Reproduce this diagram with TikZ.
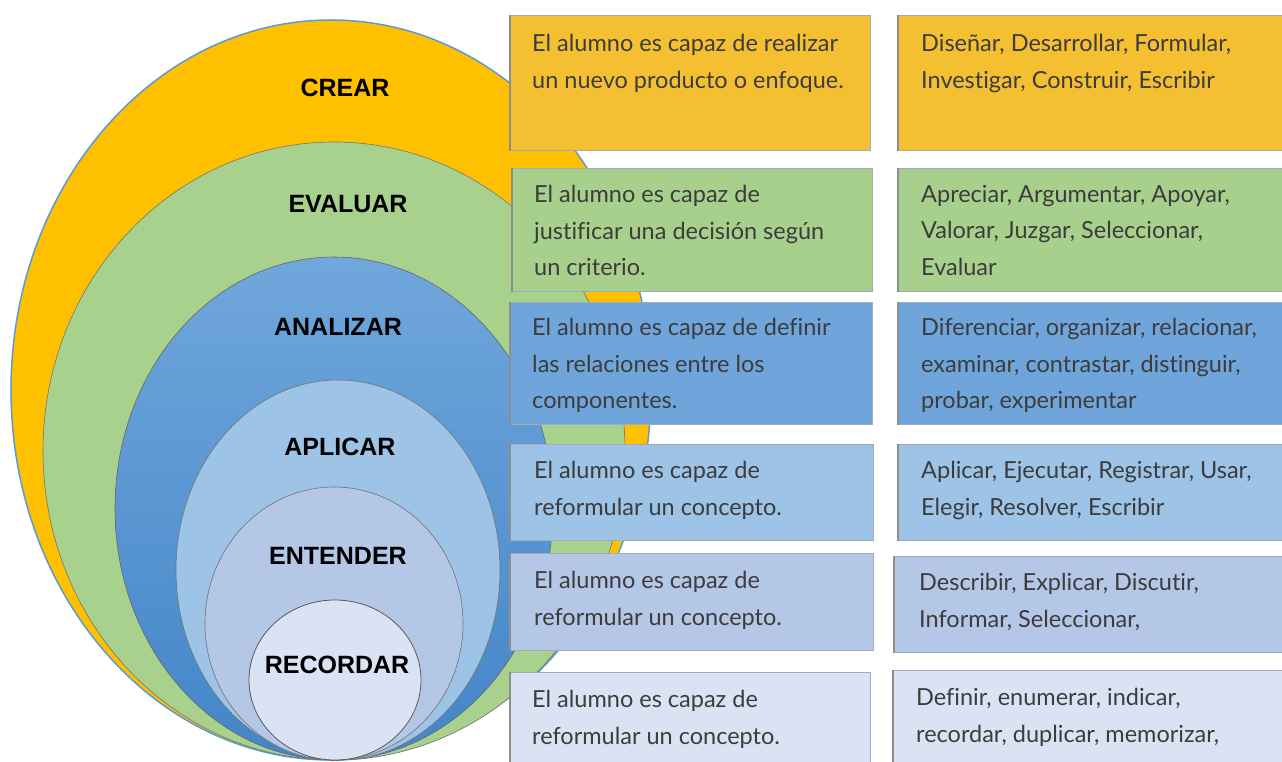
\documentclass[tikz,border=0pt]{standalone}
\usepackage{fontspec}
\setmainfont{Lato}[Ligatures=NoCommon]
\newfontfamily\levelfont{Liberation Sans}
\usetikzlibrary{positioning,calc}

\definecolor{crearfill}{HTML}{FFC000}
\definecolor{evalfill}{HTML}{A9D18E}
\definecolor{analtop}{HTML}{70A7DC}
\definecolor{analbot}{HTML}{4385C8}
\definecolor{aplifill}{HTML}{9DC3E6}
\definecolor{entefill}{HTML}{B4C7E7}
\definecolor{recofill}{HTML}{DAE3F3}
\definecolor{crearbox}{HTML}{F5BF32}
\definecolor{evalbox}{HTML}{A8D08D}
\definecolor{analbox}{HTML}{6FA5DB}
\definecolor{outerline}{HTML}{5B9BD5}
\definecolor{boxline}{HTML}{A3AAB8}
\definecolor{edgegray}{HTML}{8E8E8E}
\definecolor{txtgray}{HTML}{3C3C3C}

\begin{document}
\begin{tikzpicture}[x=1pt, y=-1pt,
  level/.style={font=\levelfont\fontsize{25}{28}\selectfont\bfseries, inner sep=0pt},
  infobox/.style={draw=boxline, line width=1.3pt, anchor=north west, inner sep=0pt,
    append after command={(\tikzlastnode.north west) edge[draw=edgegray, line width=2.6pt] (\tikzlastnode.south west)}},
  desc/.style={align=left, text=txtgray, inner sep=0pt, font=\fontsize{23.5}{36.5}\selectfont}]

\useasboundingbox (0,0) rectangle (1282,762);

% Nested levels
\filldraw[fill=crearfill, draw=outerline, line width=1.5pt] (331,390) ellipse [x radius=320pt, y radius=370pt];
\filldraw[fill=evalfill, draw=black!55, line width=0.6pt] (334,451) ellipse [x radius=291pt, y radius=309pt];
\shade[top color=analtop, bottom color=analbot] (334,508.5) ellipse [x radius=219pt, y radius=251.5pt];
\draw[black!60, line width=0.6pt] (334,508.5) ellipse [x radius=219pt, y radius=251.5pt];
\filldraw[fill=aplifill, draw=black!55, line width=0.6pt] (338,570) ellipse [x radius=162pt, y radius=190pt];
\filldraw[fill=entefill, draw=black!55, line width=0.6pt] (334,623.5) ellipse [x radius=129pt, y radius=136.5pt];
\filldraw[fill=recofill, draw=black!65, line width=0.8pt] (335,680) ellipse [x radius=86pt, y radius=80pt];

% Level names
\node[level] (crear) at (345,88) {CREAR};
\node[level] (evaluar) at (348,204) {EVALUAR};
\node[level] (analizar) at (338,327) {ANALIZAR};
\node[level] (aplicar) at (340,447) {APLICAR};
\node[level] (entender) at (338,556) {ENTENDER};
\node[level] (recordar) at (337,665) {RECORDAR};

% Descriptions
\node[infobox, fill=crearbox, minimum width=360, minimum height=135] (dcrear) at (510,15) {};
\node[infobox, fill=evalbox, minimum width=360, minimum height=123] (devaluar) at (512,168) {};
\node[infobox, fill=analbox, minimum width=362, minimum height=122] (danalizar) at (510,302) {};
\node[infobox, fill=aplifill, minimum width=363, minimum height=96] (daplicar) at (510,444) {};
\node[infobox, fill=entefill, minimum width=363, minimum height=97] (dentender) at (510,553) {};
\node[infobox, fill=recofill, minimum width=360, minimum height=100] (drecordar) at (510,672) {};

\node[desc, below right=19pt and 22pt of dcrear.north west, anchor=north west] (tcrear) {El alumno es capaz de realizar\\un nuevo producto o enfoque.};
\node[desc, below right=17pt and 22pt of devaluar.north west, anchor=north west] (tevaluar) {El alumno es capaz de\\justificar una decisión según\\un criterio.};
\node[desc, below right=16pt and 22pt of danalizar.north west, anchor=north west] (tanalizar) {El alumno es capaz de definir\\las relaciones entre los\\componentes.};
\node[desc, below right=17pt and 24pt of daplicar.north west, anchor=north west] (taplicar) {El alumno es capaz de\\reformular un concepto.};
\node[desc, below right=18pt and 24pt of dentender.north west, anchor=north west] (tentender) {El alumno es capaz de\\reformular un concepto.};
\node[desc, below right=18pt and 22pt of drecordar.north west, anchor=north west] (trecordar) {El alumno es capaz de\\reformular un concepto.};

% Verbs
\node[infobox, fill=crearbox, minimum width=400, minimum height=135] (vcrear) at (898,15) {};
\node[infobox, fill=evalbox, minimum width=400, minimum height=123] (vevaluar) at (898,168) {};
\node[infobox, fill=analbox, minimum width=400, minimum height=122] (vanalizar) at (898,302) {};
\node[infobox, fill=aplifill, minimum width=400, minimum height=96] (vaplicar) at (898,444) {};
\node[infobox, fill=entefill, minimum width=400, minimum height=96] (ventender) at (894,556) {};
\node[infobox, fill=recofill, minimum width=400, minimum height=100] (vrecordar) at (893,670) {};

\node[desc, below right=19pt and 23pt of vcrear.north west, anchor=north west] (wcrear) {Diseñar, Desarrollar, Formular,\\Investigar, Construir, Escribir};
\node[desc, below right=17pt and 23pt of vevaluar.north west, anchor=north west] (wevaluar) {Apreciar, Argumentar, Apoyar,\\Valorar, Juzgar, Seleccionar,\\Evaluar};
\node[desc, below right=16pt and 23pt of vanalizar.north west, anchor=north west] (wanalizar) {Diferenciar, organizar, relacionar,\\examinar, contrastar, distinguir,\\probar, experimentar};
\node[desc, below right=17pt and 23pt of vaplicar.north west, anchor=north west] (waplicar) {Aplicar, Ejecutar, Registrar, Usar,\\Elegir, Resolver, Escribir};
\node[desc, below right=17pt and 25pt of ventender.north west, anchor=north west] (wentender) {Describir, Explicar, Discutir,\\Informar, Seleccionar,};
\node[desc, below right=18pt and 23pt of vrecordar.north west, anchor=north west] (wrecordar) {Definir, enumerar, indicar,\\recordar, duplicar, memorizar,};

\end{tikzpicture}
\end{document}
